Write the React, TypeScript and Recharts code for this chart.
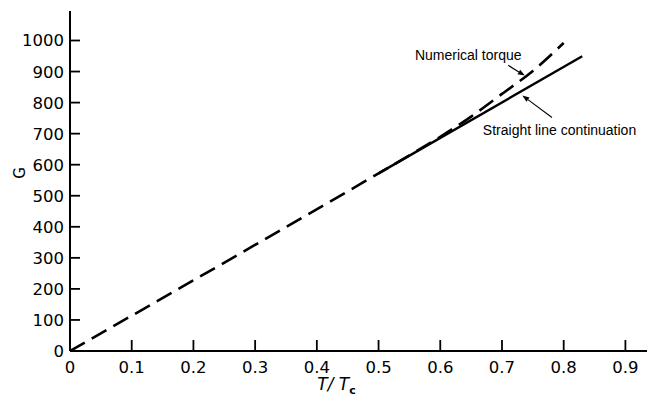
import { LineChart, Line, XAxis, YAxis, ReferenceLine, ReferenceDot } from 'recharts'

const X_TICKS = [0, 0.1, 0.2, 0.3, 0.4, 0.5, 0.6, 0.7, 0.8, 0.9]
const Y_TICKS = [0, 100, 200, 300, 400, 500, 600, 700, 800, 900, 1000]

// numerical torque (dashed)
const TORQUE_T = [0, 0.5, 0.55, 0.6, 0.65, 0.7, 0.75, 0.8]
const TORQUE_G = [0, 572, 630, 690, 755, 828, 902, 992]

// straight line continuation (solid)
const STRAIGHT_T = [0.5, 0.83]
const STRAIGHT_G = [572, 949]

// annotations, in data units
const NOTE_TEXT = ['Numerical torque', 'Straight line continuation']
const NOTE_AT = [[0.559, 936], [0.669, 695]]
const NOTE_TAIL = [[0.71, 920], [0.781, 752]]
const NOTE_TIP = [[0.737, 887], [0.733, 823]]

const torque = TORQUE_T.map((t, i) => ({ t, g: TORQUE_G[i] }))
const straight = STRAIGHT_T.map((t, i) => ({ t, g: STRAIGHT_G[i] }))

const INK = '#000'
const TICK_FONT = 'DejaVu Sans, sans-serif'
const NOTE_FONT = 'Liberation Sans, Arial, sans-serif'

// tick lines point inward (negative tickSize), labels pushed back outside here
function YTick({ x, y, payload }: any) {
  return (
    <text x={x - 16} y={y + 6} textAnchor="end" fontSize={16.5} fontFamily={TICK_FONT} fill={INK}>
      {payload.value}
    </text>
  )
}

function XTick({ x, y, payload }: any) {
  return (
    <text x={x} y={y + 33} textAnchor="middle" fontSize={16.5} fontFamily={TICK_FONT} fill={INK}>
      {payload.value}
    </text>
  )
}

function XTitle({ viewBox }: any) {
  const { x, y, width } = viewBox
  return (
    <text x={x + width / 2 - 22} y={y + 39} textAnchor="middle" fontSize={17} fontFamily={TICK_FONT} fill={INK}>
      <tspan fontStyle="italic">T/ T</tspan>
      <tspan dy={4} fontSize={11} fontWeight="bold">c</tspan>
    </text>
  )
}

function YTitle({ viewBox }: any) {
  const { x, y, height } = viewBox
  const cx = x + 20
  const cy = y + height / 2 - 8
  return (
    <text x={cx} y={cy} transform={`rotate(-90 ${cx} ${cy})`} textAnchor="middle" dominantBaseline="central" fontSize={15} fontFamily={TICK_FONT} fill={INK}>
      G
    </text>
  )
}

function Arrow({ x1, y1, x2, y2 }: any) {
  const a = Math.atan2(y2 - y1, x2 - x1)
  const len = 7
  const w = 2.6
  const bx = x2 - len * Math.cos(a)
  const by = y2 - len * Math.sin(a)
  const px = -Math.sin(a) * w
  const py = Math.cos(a) * w
  return (
    <g>
      <line x1={x1} y1={y1} x2={bx} y2={by} stroke={INK} strokeWidth={1.1} />
      <polygon points={`${x2},${y2} ${bx + px},${by + py} ${bx - px},${by - py}`} fill={INK} />
    </g>
  )
}

function NoteText(text: string) {
  return ({ cx, cy }: any) => (
    <text x={cx} y={cy} fontSize={14} fontFamily={NOTE_FONT} fill={INK}>
      {text}
    </text>
  )
}

export default function App() {
  return (
    <div style={{ position: 'absolute', left: 0, top: 0, background: '#fff' }}>
      <LineChart width={654} height={405} margin={{ top: 11, right: 7, bottom: 24, left: 0 }}>
        <XAxis
          dataKey="t"
          type="number"
          domain={[0, 0.935]}
          ticks={X_TICKS}
          interval={0}
          allowDataOverflow
          height={30}
          tickSize={-11}
          tickMargin={0}
          stroke={INK}
          tickLine={{ stroke: INK, strokeWidth: 1.8 }}
          tick={<XTick />}
          axisLine={{ stroke: INK, strokeWidth: 2 }}
          label={{ content: (p: any) => <XTitle {...p} /> }}
        />
        <XAxis
          xAxisId="top"
          orientation="top"
          type="number"
          domain={[0, 0.935]}
          height={0}
          tick={false}
          tickLine={false}
          axisLine={{ stroke: INK, strokeWidth: 1.6 }}
        />
        <YAxis
          type="number"
          domain={[0, 1095]}
          ticks={Y_TICKS}
          interval={0}
          allowDataOverflow
          width={70}
          tickSize={-10}
          tickMargin={0}
          stroke={INK}
          tickLine={{ stroke: INK, strokeWidth: 1.8 }}
          tick={<YTick />}
          axisLine={{ stroke: INK, strokeWidth: 2 }}
          label={{ content: (p: any) => <YTitle {...p} /> }}
        />
        <YAxis
          yAxisId="right"
          orientation="right"
          type="number"
          domain={[0, 1095]}
          width={0}
          tick={false}
          tickLine={false}
          axisLine={{ stroke: INK, strokeWidth: 1.6 }}
        />
        <Line
          data={straight}
          dataKey="g"
          type="linear"
          stroke={INK}
          strokeWidth={2.4}
          dot={false}
          isAnimationActive={false}
        />
        <Line
          data={torque}
          dataKey="g"
          type="monotone"
          stroke={INK}
          strokeWidth={2.6}
          strokeDasharray="17 8"
          dot={false}
          isAnimationActive={false}
        />
        {NOTE_TEXT.map((text, i) => (
          <ReferenceLine
            key={`arrow-${i}`}
            segment={[
              { x: NOTE_TAIL[i][0], y: NOTE_TAIL[i][1] },
              { x: NOTE_TIP[i][0], y: NOTE_TIP[i][1] },
            ]}
            shape={(p: any) => <Arrow {...p} />}
          />
        ))}
        {NOTE_TEXT.map((text, i) => (
          <ReferenceDot key={`note-${i}`} x={NOTE_AT[i][0]} y={NOTE_AT[i][1]} r={0} shape={NoteText(text)} />
        ))}
      </LineChart>
    </div>
  )
}
